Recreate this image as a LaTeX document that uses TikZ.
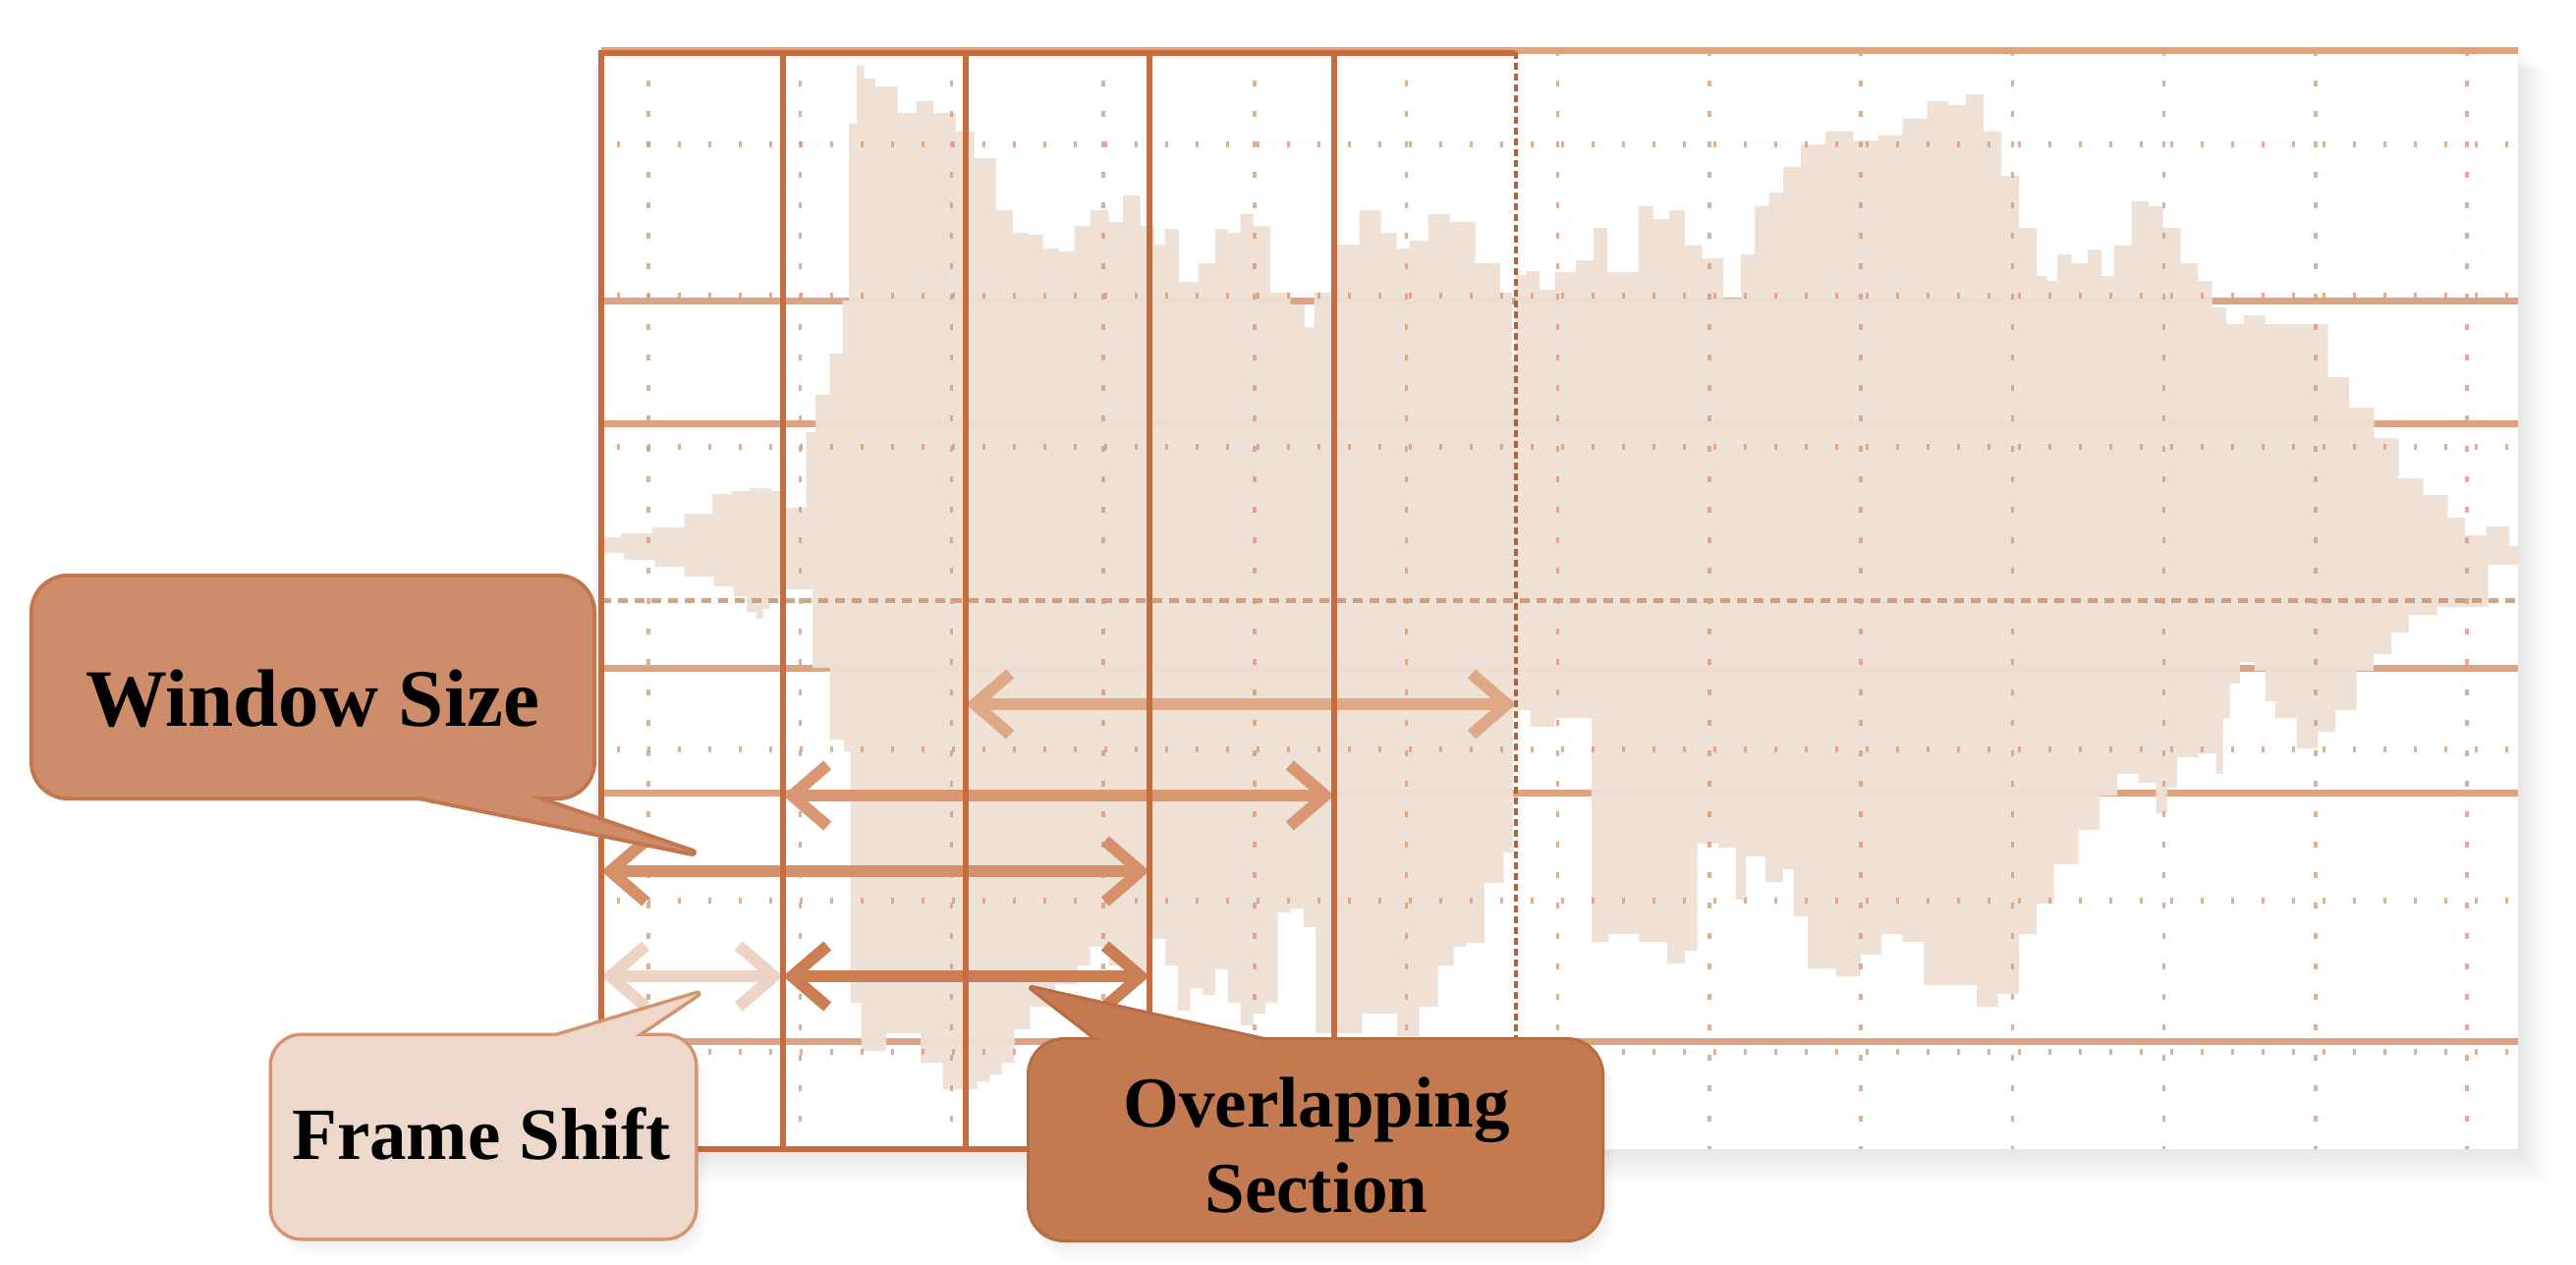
\documentclass[tikz,border=0pt]{standalone}
\usepackage{fontspec}
\setmainfont{Liberation Serif}
\usetikzlibrary{arrows.meta}
\definecolor{wavefill}{RGB}{239,224,213}
\definecolor{hlinec}{RGB}{221,163,130}
\definecolor{vlinec}{RGB}{199,108,62}
\definecolor{dashvc}{RGB}{176,98,62}
\definecolor{dotc}{RGB}{216,156,122}
\definecolor{ctrc}{RGB}{210,146,110}
\definecolor{wsfill}{RGB}{205,141,106}
\definecolor{wsline}{RGB}{196,118,78}
\definecolor{fsfill}{RGB}{237,216,203}
\definecolor{fsline}{RGB}{212,148,112}
\definecolor{osfill}{RGB}{196,122,80}
\definecolor{osline}{RGB}{184,108,68}
\definecolor{arA}{RGB}{223,168,135}
\definecolor{arB}{RGB}{217,152,115}
\definecolor{arC}{RGB}{213,145,106}
\definecolor{arD}{RGB}{203,125,83}
\definecolor{arE}{RGB}{238,212,196}
\begin{document}
\begin{tikzpicture}[x=1pt,y=-1pt,
  hgrid/.style={hlinec,line width=7pt},
  vgrid/.style={vlinec,line width=6pt},
  vdash/.style={dashvc,line width=4.5pt,dash pattern=on 7pt off 4pt},
  ctrline/.style={ctrc,line width=5pt,dash pattern=on 10pt off 7pt,opacity=0.85},
  dotcolumn/.style={dotc,line width=3.5pt,dash pattern=on 6pt off 25pt,dash phase=2pt,opacity=0.8},
  dotrow/.style={dotc,line width=6pt,dash pattern=on 3.5pt off 27.5pt,dash phase=15.5pt,opacity=0.8},
  wave/.style={fill=wavefill,fill opacity=0.96},
  spanarrow/.style={line width=12pt,arrows={Straight Barb[length=36pt,width=62pt]-Straight Barb[length=36pt,width=62pt]}},
  lbl/.style={text=black,inner sep=0pt,anchor=base},
  boxfill/.style={inner sep=0pt,draw=none},
]
\useasboundingbox (0,0) rectangle (2622,1287);
\fill[white] (0,0) rectangle (2622,1287);

% frame shadow
\foreach \i in {1,...,12} {
  \fill[black,opacity=0.009] (612-\i*0.8,53+\i*1.5) rectangle (2563+\i*2.4,1170+\i*3);
}
\fill[white] (612,53) rectangle (2563,1170);

% solid horizontal grid lines (behind the waveform)
\foreach \yy in {306,431,680,807,1060} {
  \draw[hgrid] (612,\yy) -- (2563,\yy);
}

% waveform
\fill[wave] plot[const plot mark mid] coordinates {
(612,550) (617,547) (647,543) (680,537) (713,523) (737,503) (753,500) (773,497) (797,500)
(803,517) (816,517) (825,440) (835,402) (854,360) (861,306) (867,126) (877,67) (882,80)
(899,88) (928,115) (937,103) (963,115) (982,134) (1001,161) (1026,214) (1036,237) (1058,239)
(1065,253) (1090,256) (1097,230) (1122,214) (1135,226) (1151,199) (1170,230) (1179,249)
(1192,233) (1208,287) (1231,268) (1243,233) (1256,237) (1269,218) (1282,230) (1304,298)
(1323,310) (1333,333) (1342,298) (1371,249) (1396,214) (1415,237) (1428,253) (1441,245)
(1466,218) (1486,226) (1517,268) (1537,298) (1541,366) (1545,280) (1562,276) (1572,295)
(1593,277) (1615,265) (1629,232) (1643,277) (1660,277) (1675,210) (1690,223) (1708,214)
(1722,250) (1743,263) (1765,304) (1779,259) (1793,210) (1808,196) (1822,170) (1844,147)
(1872,134) (1901,143) (1922,138) (1951,121) (1972,103) (1994,107) (2008,96) (2030,134)
(2044,179) (2066,232) (2080,281) (2087,286) (2101,259) (2116,268) (2134,254) (2144,281)
(2159,250) (2180,205) (2194,210) (2209,232) (2230,268) (2244,286) (2259,313) (2273,330)
(2295,321) (2316,330) (2359,330) (2380,384) (2402,415) (2431,446) (2452,487) (2481,504)
(2502,527) (2516,545) (2545,536) (2563,556)
(2563,575) (2502,618) (2459,626) (2445,644) (2423,666) (2409,683) (2388,723) (2366,745)
(2352,762) (2323,731) (2309,714) (2302,683) (2287,674) (2273,696) (2266,731) (2259,788)
(2252,767) (2223,771) (2209,802) (2202,828) (2187,797) (2166,788) (2144,810) (2130,845)
(2101,880) (2080,920) (2066,951) (2044,1012) (2023,1025) (2001,1003) (1972,1003) (1944,959)
(1929,951) (1901,972) (1887,994) (1851,986) (1829,933) (1822,885) (1808,898) (1786,872)
(1768,916) (1765,863) (1733,859) (1722,968) (1708,981) (1686,959) (1650,951) (1625,959)
(1615,731) (1593,731) (1572,740) (1543,723) (1537,868) (1524,899) (1498,960) (1486,964)
(1473,983) (1454,1025) (1435,1055) (1409,1032) (1364,1052) (1345,1052) (1333,944) (1320,925)
(1307,929) (1294,1021) (1282,1032) (1269,1044) (1256,1021) (1243,987) (1231,1013) (1218,1006)
(1205,1029) (1192,983) (1180,956) (1154,994) (1141,983) (1116,964) (1103,983) (1090,1002)
(1058,1025) (1039,1048) (1026,1082) (1014,1094) (1001,1101) (988,1109) (963,1109) (956,1082)
(918,1052) (886,1070) (867,1021) (864,765) (854,753) (835,680) (819,600) (805,600) (793,607)
(787,613) (780,620) (773,630) (767,623) (753,607) (740,597) (713,587) (680,577) (653,570)
(617,563) (612,562)
} -- cycle;

% centre line
\draw[ctrline] (612,611) -- (2563,611);

% dotted grid
\foreach \k in {0,...,12} {
  \draw[dotcolumn] ({660+154.25*\k},53) -- ({660+154.25*\k},1170);
}
\foreach \yy in {147,301,455,763,917,1071} {
  \draw[dotrow] (612,\yy) -- (2563,\yy);
}

% span arrows
\coordinate (a1l) at (983,717);  \coordinate (a1r) at (1543,717);
\coordinate (a2l) at (797,810);  \coordinate (a2r) at (1358,810);
\coordinate (a3l) at (612,887);  \coordinate (a3r) at (1170,887);
\coordinate (a4l) at (797,994);  \coordinate (a4r) at (1170,994);
\coordinate (a5l) at (612,994);  \coordinate (a5r) at (797,994);
\draw[spanarrow,arA] (a1l) -- (a1r);
\draw[spanarrow,arB] (a2l) -- (a2r);
\draw[spanarrow,arC] (a3l) -- (a3r);
\draw[spanarrow,arE] (a5l) -- (a5r);
\draw[spanarrow,arD] (a4l) -- (a4r);

% window borders
\draw[hgrid] (612,52) -- (2563,52);
\foreach \xx in {612,797,983,1170,1358} {
  \draw[vgrid] (\xx,51) -- (\xx,1173);
}
\draw[vdash] (1543,53) -- (1543,1170);
\draw[vgrid] (612,54) -- (1543,54);
\draw[vgrid] (612,1170) -- (1543,1170);

% callout shadows
\foreach \i in {1,...,6} {
  \fill[black,opacity=0.012,rounded corners=35pt] (1048+\i*1.5,1059+\i*2.5) rectangle (1630+\i*2,1262+\i*3.5);
  \fill[black,opacity=0.010,rounded corners=30pt] (277+\i*1.5,1055+\i*2.5) rectangle (707+\i*2,1260+\i*3);
}

% Window Size callout
\draw[wsline,line width=8pt,line join=round] (373,800) -- (705,868) -- (507,800) -- cycle;
\draw[wsline,line width=8pt,rounded corners=35pt] (34,588) rectangle (603,811);
\fill[wsfill] (373,800) -- (705,868) -- (507,800) -- cycle;
\node[boxfill,fill=wsfill,minimum width=569pt,minimum height=223pt,rounded corners=35pt] (wsbox) at (318.5,699.5) {};
\node[lbl,font=\fontsize{83}{90}\selectfont\bfseries] (wstext) at (318,739) {Window Size};

% Frame Shift callout
\draw[fsline,line width=7pt,line join=round] (530,1066) -- (710,1012) -- (630,1066) -- cycle;
\draw[fsline,line width=7pt,rounded corners=30pt] (277,1055) rectangle (707,1260);
\fill[fsfill] (530,1066) -- (710,1012) -- (630,1066) -- cycle;
\node[boxfill,fill=fsfill,minimum width=430pt,minimum height=205pt,rounded corners=30pt] (fsbox) at (492,1157.5) {};
\node[lbl,font=\fontsize{75}{82}\selectfont\bfseries] (fstext) at (490,1180) {Frame Shift};

% Overlapping Section callout
\draw[osline,line width=6pt,line join=round] (1135,1072) -- (1050,1006) -- (1345,1072) -- cycle;
\draw[osline,line width=6pt,rounded corners=35pt] (1048,1059) rectangle (1630,1262);
\fill[osfill] (1135,1072) -- (1050,1006) -- (1345,1072) -- cycle;
\node[boxfill,fill=osfill,minimum width=582pt,minimum height=203pt,rounded corners=35pt] (osbox) at (1339,1160.5) {};
\node[lbl,font=\fontsize{73}{82}\selectfont\bfseries] (ostexta) at (1340,1147) {Overlapping};
\node[lbl,font=\fontsize{73}{82}\selectfont\bfseries] (ostextb) at (1340,1234) {Section};
\end{tikzpicture}
\end{document}
